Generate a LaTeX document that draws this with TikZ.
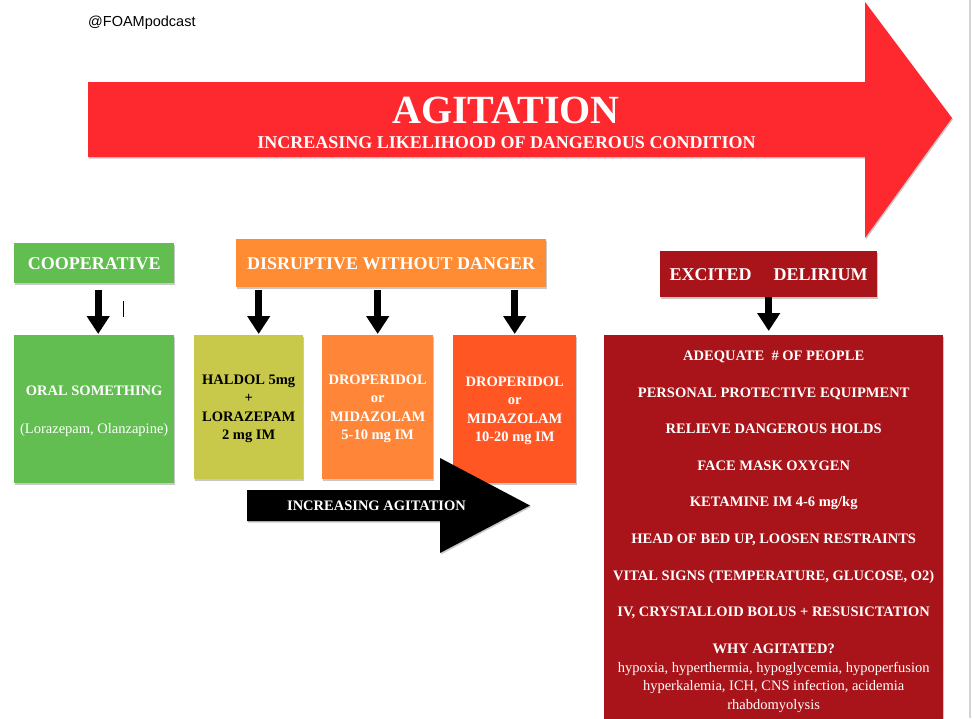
\documentclass[tikz,border=0pt]{standalone}
\usepackage{fontspec}
\setmainfont{Liberation Serif}
\newfontfamily\podfont{Liberation Sans}
\usepackage{xcolor}
\definecolor{arrowred}{RGB}{253,41,46}
\definecolor{coopgreen}{RGB}{99,190,82}
\definecolor{disruptorange}{RGB}{255,139,51}
\definecolor{haldolyellow}{RGB}{200,200,74}
\definecolor{droporange}{RGB}{255,134,57}
\definecolor{dropred}{RGB}{255,86,36}
\definecolor{deliriumred}{RGB}{168,20,25}
\definecolor{pageedge}{RGB}{212,212,212}
\usepackage{tikz}
\usetikzlibrary{arrows.meta}
\usetikzlibrary{shadows}
\newcommand{\sizebody}{\fontsize{14.5}{18.3}\selectfont}
\newcommand{\sizelabel}{\fontsize{18}{21}\selectfont}
\newcommand{\sizetitle}{\fontsize{40}{41}\selectfont}
\tikzset{
    softshadow/.style={drop shadow={shadow xshift=1pt, shadow yshift=-1.5pt, opacity=.3, fill=black!70}},
    common/.style={anchor=north west, rectangle, inner sep=0pt, align=center, text=white, softshadow},
    header/.style={common, font=\sizelabel\bfseries},
    drug/.style={common, font=\sizebody\bfseries},
    dose/.style={drug, text depth=0pt},
    caption/.style={inner sep=0pt, text=white, font=\sizebody\bfseries},
    down/.style={line width=7pt, -{Triangle[width=22pt, length=18pt]}}
}

\begin{document}
\begin{tikzpicture}[x=1pt, y=-1pt]
    \useasboundingbox (0,0) rectangle (972,718);
    \fill[white] (0,0) rectangle (972,718);
    \draw[pageedge, line width=1.5pt] (970,0) -- (970,718);

    \node[anchor=base west, inner sep=0pt, font=\podfont\fontsize{14.5}{17}\selectfont] (handle) at (88,26) {@FOAMpodcast};

    \fill[arrowred, softshadow] (88,82) -- (865,82) -- (865,2) -- (952,118) -- (865,238) -- (865,157) -- (88,157) -- cycle;
    \node[caption, font=\sizetitle\bfseries] (agitation) at (506,110) {AGITATION};
    \node[caption, font=\sizelabel\bfseries] (likelihood) at (506.5,143) {INCREASING LIKELIHOOD OF DANGEROUS CONDITION};

    \node[header, fill=coopgreen, minimum width=160pt, minimum height=40pt] (coop) at (14,243) {COOPERATIVE};
    \node[header, fill=disruptorange, minimum width=310pt, minimum height=48pt] (disrupt) at (236,239) {DISRUPTIVE WITHOUT DANGER};
    \node[header, fill=deliriumred, minimum width=217pt, minimum height=46pt] (excited) at (660,251) {EXCITED\hspace{22pt}DELIRIUM};

    \path (14,335) node[dose, fill=coopgreen, minimum width=160pt, minimum height=148pt] (oral)
            {ORAL SOMETHING\\[19.7pt]{\mdseries (Lorazepam, Olanzapine)}}
        to ++(0:180) node[dose, fill=haldolyellow, text=black, minimum width=109pt, minimum height=144pt] (haldol)
            {HALDOL 5mg\\+\\LORAZEPAM\\2 mg IM}
        to ++(0:128) node[dose, fill=droporange, minimum width=111pt, minimum height=144pt] (droplow)
            {DROPERIDOL\\or\\MIDAZOLAM\\5-10 mg IM}
        to ++(0:131) node[dose, fill=dropred, minimum width=123pt, minimum height=148pt] (drophigh)
            {DROPERIDOL\\or\\MIDAZOLAM\\10-20 mg IM};

    \node[drug, fill=deliriumred, minimum width=339pt, minimum height=393pt] (care) at (604,335)
        {ADEQUATE\ \ \# OF PEOPLE\\[18.3pt]
         PERSONAL PROTECTIVE EQUIPMENT\\[18.3pt]
         RELIEVE DANGEROUS HOLDS\\[18.3pt]
         FACE MASK OXYGEN\\[18.3pt]
         KETAMINE IM 4-6 mg/kg\\[18.3pt]
         HEAD OF BED UP, LOOSEN RESTRAINTS\\[18.3pt]
         VITAL SIGNS (TEMPERATURE, GLUCOSE, O2)\\[18.3pt]
         IV, CRYSTALLOID BOLUS + RESUSICTATION\\[18.3pt]
         WHY AGITATED?\\[1pt]
         {\mdseries hypoxia, hyperthermia, hypoglycemia, hypoperfusion}\\
         {\mdseries hyperkalemia, ICH, CNS infection, acidemia}\\
         {\mdseries rhabdomyolysis}};

    \fill[black, softshadow] (247,490) -- (440,490) -- (440,458) -- (530,505.5) -- (440,553) -- (440,521) -- (247,521) -- cycle;
    \node[caption] (increasing) at (376.5,505.5) {INCREASING AGITATION};

    \draw[down, shorten <=7pt, shorten >=1pt] ([xshift=4pt]coop.south) -- ([xshift=4pt]oral.north);
    \draw[down, shorten <=3pt, shorten >=1pt] ([xshift=10pt]haldol.north |- disrupt.south) -- ([xshift=10pt]haldol.north);
    \draw[down, shorten <=3pt, shorten >=1pt] (droplow.north |- disrupt.south) -- (droplow.north);
    \draw[down, shorten <=3pt, shorten >=1pt] (drophigh.north |- disrupt.south) -- (drophigh.north);
    \draw[down, shorten >=4pt] (excited.south) -- (excited.south |- care.north);
    \draw[line width=0.8pt] (123.5,301) -- (123.5,317);
\end{tikzpicture}
\end{document}
